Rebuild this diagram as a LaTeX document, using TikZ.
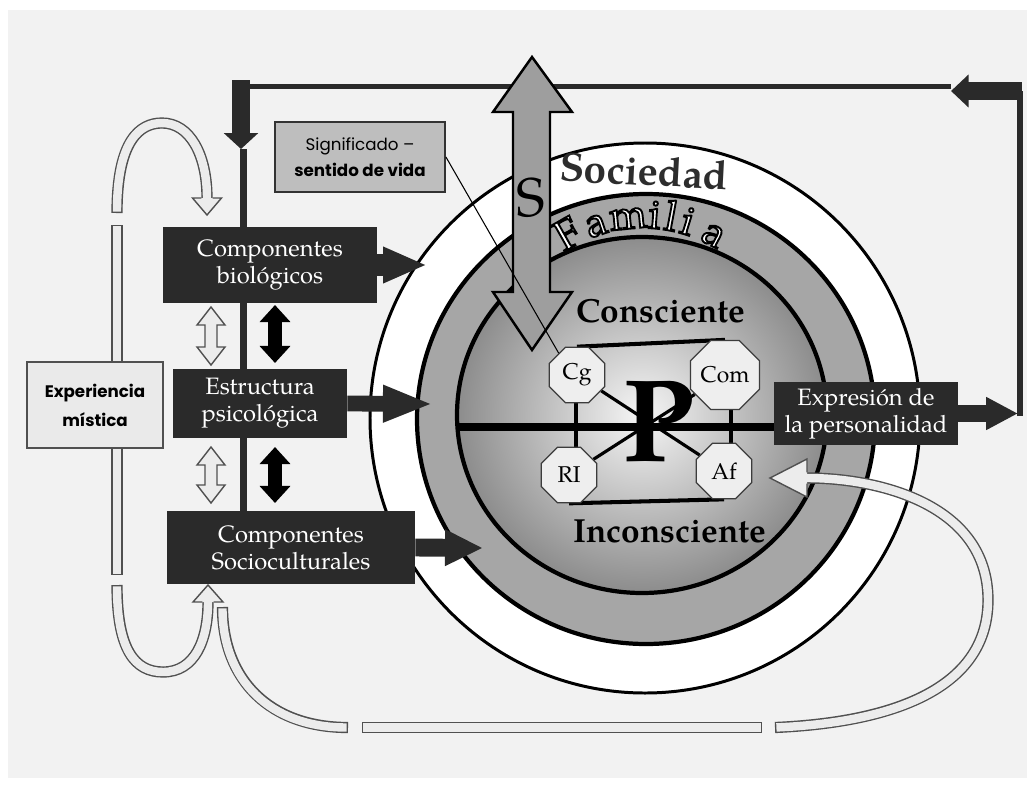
\documentclass[tikz,border=0pt]{standalone}
\usepackage{fontspec}
\setmainfont{texgyrepagella}[Extension=.otf,UprightFont=*-regular,BoldFont=*-bold,ItalicFont=*-italic,BoldItalicFont=*-bolditalic]
\newfontfamily\gothic{Poppins}
\newfontfamily\famfont{texgyrepagella}[Extension=.otf,UprightFont=*-regular,FakeBold=4.5]
\usetikzlibrary{shapes.geometric,arrows.meta,calc}
\definecolor{bg}{RGB}{242,242,242}
\definecolor{boxdark}{RGB}{42,42,42}
\definecolor{famring}{RGB}{166,166,166}
\definecolor{sarrow}{RGB}{158,158,158}
\definecolor{octfill}{RGB}{238,238,238}
\definecolor{octline}{RGB}{60,60,60}
\definecolor{hfill}{RGB}{236,236,236}
\definecolor{hline}{RGB}{80,80,80}
\definecolor{expfill}{RGB}{234,234,234}
\definecolor{sigfill}{RGB}{190,190,190}
\definecolor{socc}{RGB}{45,45,45}
\definecolor{innerlight}{RGB}{246,246,246}
\definecolor{innerdark}{RGB}{140,140,140}
\pgfdeclarelayer{back}
\pgfdeclarelayer{mid}
\pgfsetlayers{back,mid,main}
% hollow arrow head: tip x, tip y, angle, length, half width
\newcommand\hhead[5]{\filldraw[fill=hfill,draw=hline,line width=0.8pt,line join=miter,shift={(#1,#2)},rotate=#3] (-#4,-5.6) -- (-#4,-#5) -- (0,0) -- (-#4,#5) -- (-#4,5.6);}
% hollow band: shorten options, path
\newcommand\hband[2]{\draw[line width=6.4pt,hline] #2; \draw[line width=4.8pt,hfill,#1] #2;}
% hollow double arrow: x, ytop, ybottom
\newcommand\hdbl[3]{\filldraw[fill=hfill,draw=hline,line width=0.8pt,line join=miter] (#1,#2) -- ({#1+14},{#2+18}) -- ({#1+6},{#2+18}) -- ({#1+6},{#3-18}) -- ({#1+14},{#3-18}) -- (#1,#3) -- ({#1-14},{#3-18}) -- ({#1-6},{#3-18}) -- ({#1-6},{#2+18}) -- ({#1-14},{#2+18}) -- cycle;}
\newcommand\outlined[1]{{\famfont\special{pdf:literal direct 0 G}#1}}
\begin{document}
\begin{tikzpicture}[x=0.02cm,y=-0.02cm,
  darkbox/.style={fill=boxdark,text=white,font=\fontsize{13.5}{15.5}\selectfont,align=center,inner sep=0pt},
  octo/.style={regular polygon,regular polygon sides=8,minimum size=1.2cm,inner sep=0pt,fill=octfill,draw=octline,line width=0.7pt,font=\fontsize{13}{13}\selectfont},
  famtxt/.style={font=\fontsize{24}{24}\selectfont,inner sep=0pt,anchor=base},
  octlink/.style={line width=1.8pt,black},
  blkline/.style={draw=boxdark,line width=3.4pt},
  dblk/.style={line width=8pt,black,{Triangle[length=9.7pt,width=17pt]}-{Triangle[length=9.7pt,width=17pt]}}
]
\useasboundingbox (0,0) rectangle (1035,785);
\begin{pgfonlayer}{back}
\fill[white] (0,0) rectangle (1035,785);
\fill[bg] (8,10) rectangle (1027,778);
\filldraw[fill=white,draw=black,line width=1.7pt] (645,418) ellipse [x radius=275,y radius=275];
\filldraw[fill=famring,draw=black,line width=2.4pt] (646,419) ellipse [x radius=229,y radius=225];
\shade[inner color=innerlight,outer color=innerdark] (642,415) ellipse [x radius=185,y radius=178];
\draw[black,line width=2.4pt] (642,415) ellipse [x radius=185,y radius=178];
\node[rotate=-3,font=\bfseries\fontsize{23}{23}\selectfont,text=socc,inner sep=0pt] (soc) at (644,171) {Sociedad};
\foreach \ch/\ph/\rt [count=\k] in {F/-29.5/29.5,a/-18/18,m/-5.6/5.6,i/4.4/-4.4,l/10.6/-10.6,i/17/-17,a/28/-28}{
  \node[famtxt,text=white,rotate=\rt] (fam\k) at ({643+140*sin(\ph)},{368-140*cos(\ph)}) {\outlined{\ch}};
}
\end{pgfonlayer}

% boxes
\node[darkbox,minimum width=4.28cm,minimum height=1.52cm] (bio) at (270,265) {Componentes\\biológicos};
\node[darkbox,minimum width=3.48cm,minimum height=1.38cm] (estr) at (260,403.5) {Estructura\\psicológica};
\node[darkbox,minimum width=4.96cm,minimum height=1.46cm] (socio) at (291,547.5) {Componentes\\Socioculturales};
\node[darkbox,minimum width=3.68cm,minimum height=1.26cm] (expr) at (866,413.5) {Expresión de\\la personalidad};
\node[draw=hline,line width=1.1pt,fill=expfill,minimum width=2.72cm,minimum height=1.72cm,inner sep=0pt,align=center,font=\gothic\bfseries\fontsize{9.5}{16.5}\selectfont] (exp) at (95,405) {Experiencia\\mística};

% octagons
\node[octo] (Cg) at (577,375) {Cg};
\node[octo] (Com) at (725,375) {Com};
\node[octo] (RI) at (569,475) {RI};
\node[octo] (Af) at (724,471) {Af};

% named coordinates
\coordinate (hl) at (457,427);
\coordinate (rtop) at (1020,91);
\coordinate (rbot) at (1020,416);
\coordinate (tr) at (1022,91);
\coordinate (trtip) at (951,91);
\coordinate (tl) at (951,86.5);
\coordinate (tle) at (241,86.5);
\coordinate (dtop) at (241,80);
\coordinate (dtip) at (241,149);
\coordinate (vtop) at (243.5,149);
\coordinate (biotip) at (427,265);
\coordinate (estrtip) at (433,404);
\coordinate (sociotip) at (483,548);
\coordinate (exprtip) at (1018,413.5);
\coordinate (a1t) at (275,305); \coordinate (a1b) at (275,363);
\coordinate (a2t) at (275,447); \coordinate (a2b) at (275,503);

\begin{pgfonlayer}{mid}
% central lines
\draw[line width=4.5pt,black] (hl) -- (hl -| expr.west);
\draw[octlink,line width=2.3pt] (Cg.north) -- (Com.north);
\draw[octlink,line width=2.3pt] (RI.south) -- (Af.south);
\draw[octlink] ($(Cg.south)+(-1,0)$) -- ($(Cg.south)+(-1,60)$);
\draw[octlink] ($(Com.south)+(6,0)$) -- ($(Com.south)+(6,50)$);
\draw[octlink] (Cg) -- (Af);
\draw[octlink] (RI) -- (Com);
% feedback loop lines
\draw[blkline] (rbot) -- (rtop);
\draw[blkline] (tl) -- (tle);
\draw[draw=boxdark,line width=4pt] (vtop) -- (vtop |- socio.north);
% hollow bands
\hband{shorten <=0.8pt}{(117,213) .. controls (117,140) and (140,123) .. (162,123) .. controls (190,123) and (207,155) .. (207,198)}
\hband{shorten <=0.8pt,shorten >=0.8pt}{(117,225) -- (117,575)}
\hband{shorten <=0.8pt}{(117,585) .. controls (117,650) and (135,672) .. (163,672) .. controls (195,672) and (208,640) .. (208,602)}
\hband{shorten <=0.8pt,shorten >=0.8pt}{(222.5,607) .. controls (222.5,680) and (270,727.5) .. (348,727.5)}
\hband{shorten <=0.8pt,shorten >=0.8pt}{(362,727.5) -- (762,727.5)}
\hband{shorten <=0.8pt}{(775,727.5) .. controls (900,722) and (988,685) .. (988,600) .. controls (988,505) and (880,478) .. (807,478)}
\end{pgfonlayer}

\hhead{207}{215}{-90}{17}{14.5}
\hhead{208}{585}{90}{17}{15}
\hhead{770}{478}{180}{37}{19}

% P and layer labels
\node[font=\bfseries\fontsize{67}{67}\selectfont,inner sep=0pt] (P) at (658,422) {P};
\node[font=\bfseries\fontsize{19}{19}\selectfont,inner sep=0pt] (cons) at (661,311) {Consciente};
\node[font=\bfseries\fontsize{19}{19}\selectfont,inner sep=0pt] (incons) at (670,531.5) {Inconsciente};

% S arrow
\filldraw[fill=sarrow,draw=black,line width=1.4pt,line join=miter] (532,57) -- (572,112) -- (550,112) -- (550,292) -- (572,292) -- (532,350) -- (493,292) -- (513,292) -- (513,112) -- (493,112) -- cycle;
\node[font=\fontsize{31}{31}\selectfont,inner sep=0pt] (S) at (531,198) {S};

% significado
\node[draw=black!80,line width=1.1pt,fill=sigfill,minimum width=3.4cm,minimum height=1.4cm,align=center,font=\gothic\fontsize{9.5}{14.5}\selectfont,inner sep=0pt] (sig) at (360,157) {Significado –\\\textbf{sentido de vida}};
\draw[line width=0.6pt] (sig.east) -- (Cg.130);

% block arrows
\draw[draw=boxdark,line width=10.2pt,-{Triangle[length=10pt,width=18.2pt]}] (tr) -- (trtip);
\draw[draw=boxdark,line width=10.2pt,-{Triangle[length=9pt,width=19pt]}] (dtop) -- (dtip);
\draw[draw=boxdark,line width=12.5pt,-{Triangle[length=25pt,width=19pt]}] (bio.east) -- (biotip);
\draw[draw=boxdark,line width=9pt,-{Triangle[length=28.5pt,width=19.3pt]}] (estr.east) -- (estrtip);
\draw[draw=boxdark,line width=10.2pt,-{Triangle[length=21.6pt,width=19.3pt]}] (socio.east) -- (sociotip);
\draw[draw=boxdark,line width=9.7pt,-{Triangle[length=18.2pt,width=17.6pt]}] (expr.east) -- (exprtip);

% double arrows
\draw[dblk] (a1t) -- (a1b);
\draw[dblk] (a2t) -- (a2b);
\hdbl{211}{307}{365}
\hdbl{211}{447}{503}
\end{tikzpicture}
\end{document}
